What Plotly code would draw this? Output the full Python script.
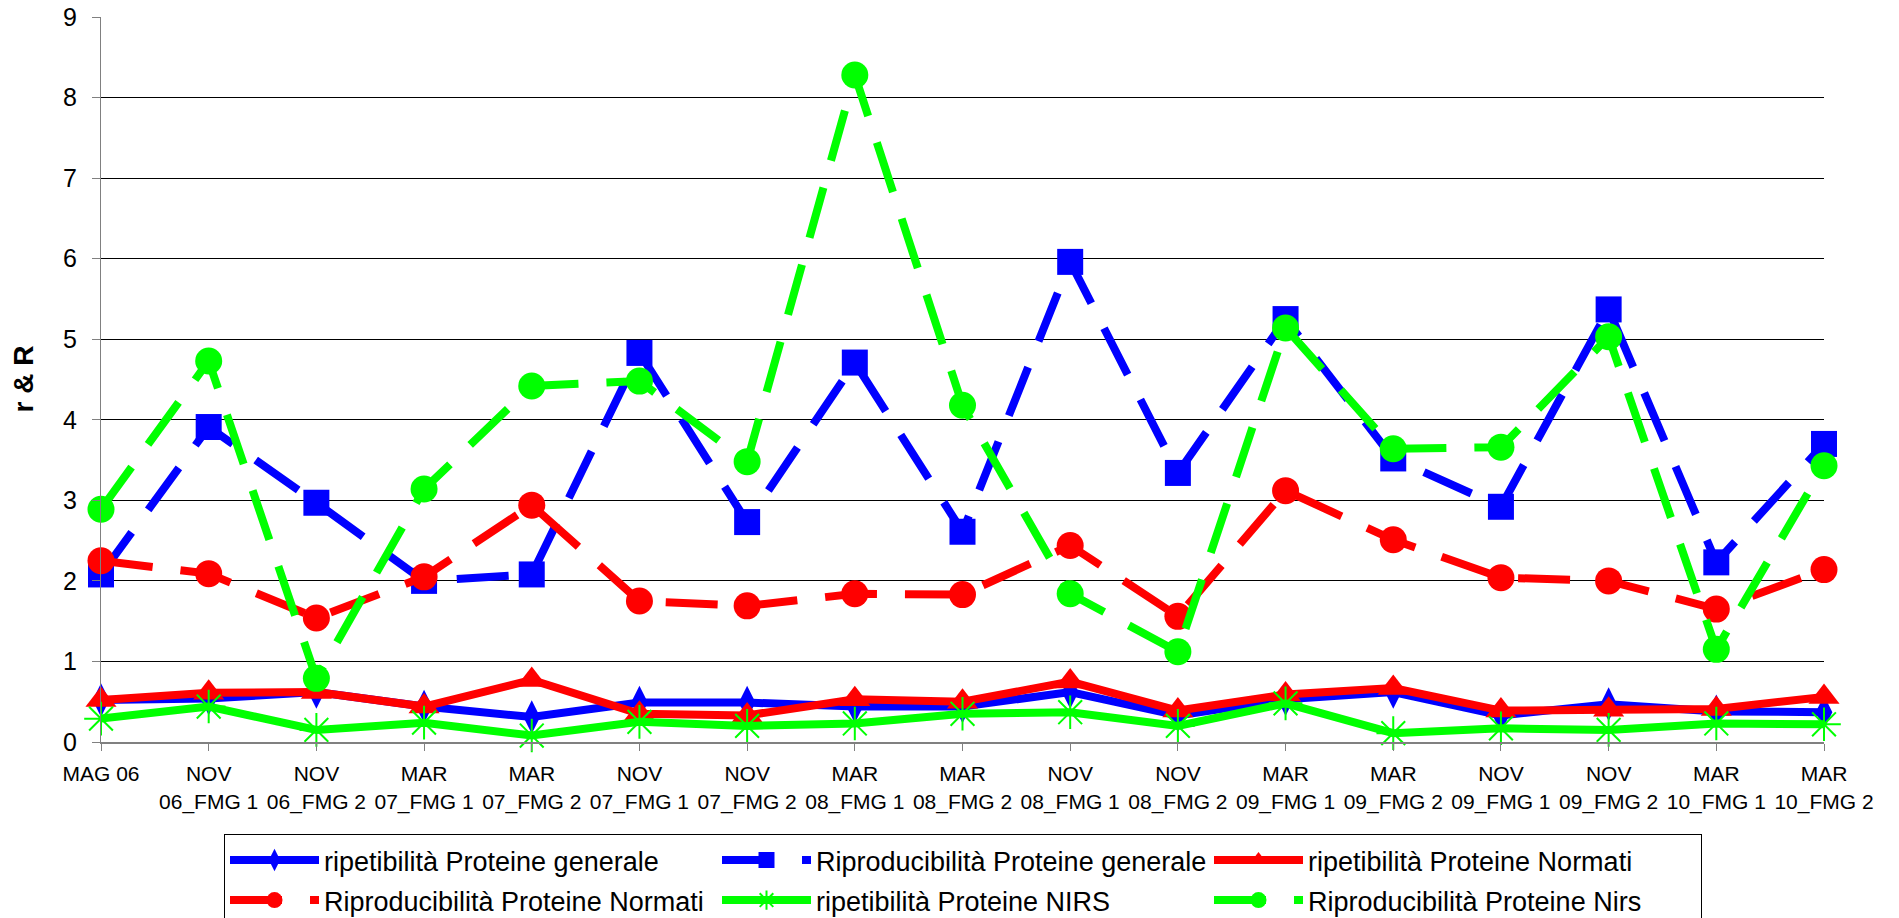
import plotly.graph_objects as go

categories = ["MAG 06", "NOV<br>06_FMG 1", "NOV<br>06_FMG 2", "MAR<br>07_FMG 1", "MAR<br>07_FMG 2",
              "NOV<br>07_FMG 1", "NOV<br>07_FMG 2", "MAR<br>08_FMG 1", "MAR<br>08_FMG 2",
              "NOV<br>08_FMG 1", "NOV<br>08_FMG 2", "MAR<br>09_FMG 1", "MAR<br>09_FMG 2",
              "NOV<br>09_FMG 1", "NOV<br>09_FMG 2", "MAR<br>10_FMG 1", "MAR<br>10_FMG 2"]

rip_generale = [0.52, 0.54, 0.62, 0.44, 0.31, 0.49, 0.49, 0.44, 0.44, 0.62, 0.33, 0.53, 0.62, 0.33, 0.47, 0.38, 0.37]
rip_gen_R = [2.08, 3.91, 2.97, 2.00, 2.08, 4.83, 2.73, 4.71, 2.61, 5.96, 3.34, 5.25, 3.52, 2.92, 5.37, 2.23, 3.70]
rip_normati = [0.52, 0.61, 0.62, 0.44, 0.77, 0.35, 0.33, 0.53, 0.50, 0.75, 0.39, 0.59, 0.67, 0.39, 0.40, 0.41, 0.56]
rip_norm_R = [2.25, 2.09, 1.54, 2.05, 2.94, 1.75, 1.69, 1.84, 1.83, 2.44, 1.56, 3.12, 2.51, 2.04, 2.00, 1.65, 2.14]
rip_nirs = [0.29, 0.44, 0.15, 0.24, 0.08, 0.25, 0.20, 0.23, 0.35, 0.37, 0.20, 0.48, 0.11, 0.17, 0.15, 0.23, 0.22]
rip_nirs_R = [2.89, 4.73, 0.79, 3.14, 4.42, 4.48, 3.48, 8.28, 4.18, 1.84, 1.12, 5.14, 3.64, 3.66, 5.03, 1.15, 3.43]

names = ["ripetibilità Proteine generale", "Riproducibilità Proteine generale",
         "ripetibilità Proteine Normati", "Riproducibilità Proteine Normati",
         "ripetibilità Proteine NIRS", "Riproducibilità Proteine Nirs"]

BLUE, RED, GREEN = "#0000FF", "#FF0000", "#00FF00"
DASH = "52px,28px"
LW = 8

series = [
    (rip_generale, BLUE, "solid", "diamond-tall", 24),
    (rip_gen_R, BLUE, DASH, "square", 26),
    (rip_normati, RED, "solid", "triangle-up", 27),
    (rip_norm_R, RED, DASH, "circle", 27),
    (rip_nirs, GREEN, "solid", "asterisk-open", 28),
    (rip_nirs_R, GREEN, DASH, "circle", 27),
]

fig = go.Figure()
for (vals, col, dash, sym, size), name in zip(series, names):
    marker = dict(symbol=sym, size=size, color=col)
    if sym == "asterisk-open":
        marker["line"] = dict(color=col, width=2)
    fig.add_trace(go.Scatter(
        x=categories, y=vals, name=f'<span style="font-size:27px">{name}</span>',
        mode="lines+markers",
        line=dict(color=col, width=LW, dash=dash),
        marker=marker, cliponaxis=False,
    ))

FONT = "Liberation Sans, Arial, sans-serif"

# page body has an 8px default margin; figure is sized to fit the window
W, H = 1891, 910
L, R, T, B = 93, 75, 9, 176
PW = W - L - R
PH = H - T - B

fig.update_layout(
    width=W, height=H,
    margin=dict(l=L, r=R, t=T, b=B, autoexpand=False),
    plot_bgcolor="white", paper_bgcolor="white",
    font=dict(family=FONT, color="black"),
    xaxis=dict(
        type="category", range=[0, 16], automargin=False,
        showgrid=False, zeroline=False,
        showline=True, linecolor="#808080", linewidth=2,
        ticks="outside", ticklen=7, tickcolor="#808080", tickwidth=1,
        tickfont=dict(size=21, family=FONT, color="black"),
        ticklabelstandoff=5, ticklabeloverflow="allow",
    ),
    yaxis=dict(
        range=[0, 9], dtick=1, tick0=0, automargin=False,
        showgrid=True, gridcolor="black", gridwidth=1,
        zeroline=False,
        showline=True, linecolor="#808080", linewidth=1,
        ticks="outside", ticklen=8, tickcolor="#808080",
        tickfont=dict(size=25, family=FONT, color="black"),
        ticklabelstandoff=10, ticklabeloverflow="allow",
    ),
    legend=dict(
        orientation="h", x=(216 - L) / PW, xanchor="left",
        y=(PH + T - 826) / PH, yanchor="top",
        bordercolor="black", borderwidth=1,
        font=dict(size=28.5, family=FONT, color="black"),
        itemwidth=89, entrywidth=388, entrywidthmode="pixels",
        traceorder="normal",
    ),
    annotations=[dict(
        text="<b>r & R</b>", textangle=-90,
        xref="paper", yref="paper", x=(15 - L) / PW, y=0.5,
        xanchor="center", yanchor="middle", showarrow=False,
        font=dict(size=28, family=FONT, color="black"),
    )],
    showlegend=True,
)

fig.write_html("out.html")
